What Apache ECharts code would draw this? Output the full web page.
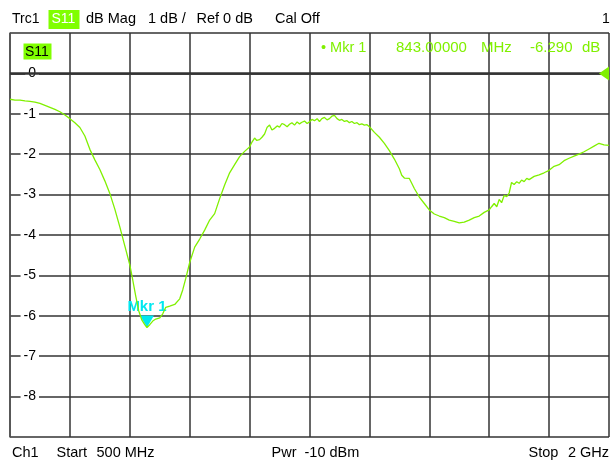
<!DOCTYPE html>
<html><head><meta charset="utf-8">
<script src="https://cdn.jsdelivr.net/npm/echarts@6/dist/echarts.min.js"></script>
<style>html,body{margin:0;padding:0;background:#fff}#c{width:610px;height:462px}</style>
</head><body><div id="c"></div>
<script>
const startMHz = 500;
const stopMHz = 2000;
const divMHz = 150;
const freqMHz = [500,512.5,525,537.5,550,562.5,575,587.5,600,612.5,625,637.5,650,662.5,675,687.5,700,712.5,725,737.5,750,762.5,775,787.5,800,807.5,815,822.5,830,837.5,843,850,857.5,865,875,882.5,890,900,912.5,925,932.5,940,950,962.5,975,987.5,1000,1012.5,1025,1037.5,1050,1062.5,1075,1087.5,1100,1106,1112.5,1118,1125,1131,1137.5,1144,1150,1156,1162.5,1169,1175,1181,1187.5,1194,1200,1206,1212.5,1219,1225,1231,1237.5,1244,1250,1256,1262.5,1269,1275,1281,1287.5,1294,1300,1306,1312.5,1319,1325,1331,1337.5,1344,1350,1356,1362.5,1369,1375,1381,1387.5,1394,1400,1412.5,1425,1437.5,1450,1462.5,1475,1481,1487.5,1500,1506,1512.5,1525,1537.5,1550,1562.5,1575,1587.5,1600,1612.5,1625,1637.5,1650,1662.5,1675,1687.5,1700,1706,1712.5,1719,1725,1731,1737.5,1744,1750,1756,1762.5,1769,1775,1781,1787.5,1794,1800,1812.5,1825,1837.5,1850,1862.5,1875,1887.5,1900,1912.5,1925,1937.5,1950,1962.5,1975,1987.5,2000];
const s11dB = [-0.64,-0.66,-0.66,-0.68,-0.69,-0.71,-0.74,-0.79,-0.84,-0.89,-0.95,-1.03,-1.12,-1.22,-1.34,-1.55,-1.88,-2.14,-2.38,-2.66,-2.97,-3.36,-3.80,-4.27,-4.74,-5.12,-5.52,-5.88,-6.10,-6.22,-6.29,-6.22,-6.13,-6.08,-6.05,-5.95,-5.79,-5.76,-5.72,-5.58,-5.36,-5.08,-4.68,-4.30,-4.10,-3.88,-3.63,-3.47,-3.10,-2.76,-2.46,-2.26,-2.06,-1.93,-1.82,-1.70,-1.60,-1.66,-1.64,-1.58,-1.50,-1.33,-1.28,-1.40,-1.36,-1.30,-1.33,-1.24,-1.27,-1.32,-1.26,-1.22,-1.28,-1.20,-1.25,-1.21,-1.18,-1.24,-1.20,-1.14,-1.17,-1.12,-1.19,-1.12,-1.09,-1.15,-1.12,-1.06,-1.04,-1.12,-1.16,-1.14,-1.19,-1.17,-1.22,-1.19,-1.24,-1.22,-1.27,-1.25,-1.28,-1.27,-1.32,-1.46,-1.58,-1.73,-1.91,-2.12,-2.36,-2.52,-2.59,-2.60,-2.72,-2.85,-3.06,-3.22,-3.38,-3.48,-3.53,-3.57,-3.63,-3.66,-3.70,-3.68,-3.63,-3.57,-3.53,-3.44,-3.38,-3.30,-3.22,-3.30,-3.12,-3.20,-3.02,-3.05,-2.96,-2.70,-2.75,-2.68,-2.72,-2.64,-2.68,-2.60,-2.63,-2.55,-2.51,-2.46,-2.40,-2.30,-2.26,-2.16,-2.10,-2.05,-2.00,-1.94,-1.87,-1.80,-1.73,-1.77,-1.78];
const yLabelValues = [0,-1,-2,-3,-4,-5,-6,-7,-8];
const refLevel = 0;
const markerFreq = 843;
const markerValue = -6.29;

const FONT = 'Liberation Sans, Arial, sans-serif';
const GREEN = '#80f000';
const CYAN = '#00e8f0';

const chart = echarts.init(document.getElementById('c'), null, {renderer: 'canvas'});
const traceData = freqMHz.map((f, i) => [f - startMHz, s11dB[i]]);

chart.setOption({
  animation: false,
  backgroundColor: '#fff',
  grid: {left: 10, right: 1, top: 33, bottom: 25, show: false},
  xAxis: {
    type: 'value', min: 0, max: stopMHz - startMHz, interval: divMHz,
    axisLabel: {show: false}, axisTick: {show: false},
    axisLine: {show: true, lineStyle: {color: '#555', width: 1.5}},
    splitLine: {show: true, showMinLine: true, showMaxLine: true, lineStyle: {color: '#333', width: 1.5}},
    z: 3
  },
  yAxis: {
    type: 'value', min: -9, max: 1, interval: 1,
    axisTick: {show: false},
    axisLine: {show: true, lineStyle: {color: '#555', width: 1.5}},
    splitLine: {show: true, showMinLine: true, showMaxLine: true, lineStyle: {color: '#333', width: 1.5}},
    axisLabel: {
      inside: true, margin: 29, align: 'right',
      formatter: v => yLabelValues.indexOf(v) >= 0 ? String(v) : '',
      color: '#000', fontFamily: FONT, fontSize: 14,
      backgroundColor: '#fff', padding: [0, 3, 0, 3]
    },
    z: 3
  },
  series: [
    {
      type: 'line', data: [], z: 2, silent: true,
      markLine: {
        silent: true, symbol: 'none', label: {show: false},
        lineStyle: {color: '#333', width: 2.5, type: 'solid'},
        data: [{yAxis: refLevel}]
      }
    },
    {
      type: 'line', data: traceData, showSymbol: false, z: 5,
      lineStyle: {color: GREEN, width: 1.3}, clip: true,
      markPoint: {
        silent: true,
        data: [
          {
            coord: [markerFreq - startMHz, markerValue],
            symbol: 'path://M0,0 L14,0 L7,12 Z', symbolSize: [14, 12],
            symbolOffset: [0, '-50%'],
            itemStyle: {color: CYAN},
            label: {show: true, position: 'top', distance: 1, formatter: 'Mkr 1', color: CYAN,
              fontFamily: FONT, fontSize: 15, fontWeight: 'bold'}
          },
          {
            coord: [stopMHz - startMHz, refLevel],
            symbol: 'path://M10,0 L10,14 L0,7 Z', symbolSize: [10, 14],
            symbolOffset: ['-50%', 0],
            itemStyle: {color: GREEN}, label: {show: false}
          }
        ]
      }
    }
  ],
  graphic: [
    {type: 'text', x: 12, y: 19, style: {text: 'Trc1', fill: '#000', font: '14px ' + FONT, verticalAlign: 'middle'}},
    {type: 'rect', shape: {x: 48.5, y: 10, width: 31, height: 19}, style: {fill: '#80ff00'}},
    {type: 'text', x: 51.5, y: 19.5, style: {text: 'S11', fill: '#fff', font: '14px ' + FONT, verticalAlign: 'middle'}},
    {type: 'text', x: 86, y: 19, style: {text: 'dB Mag', fill: '#000', font: '14.5px ' + FONT, verticalAlign: 'middle'}},
    {type: 'text', x: 148, y: 19, style: {text: '1 dB /', fill: '#000', font: '14.5px ' + FONT, verticalAlign: 'middle'}},
    {type: 'text', x: 196.5, y: 19, style: {text: 'Ref 0 dB', fill: '#000', font: '14.5px ' + FONT, verticalAlign: 'middle'}},
    {type: 'text', x: 275, y: 19, style: {text: 'Cal Off', fill: '#000', font: '14.5px ' + FONT, verticalAlign: 'middle'}},
    {type: 'text', x: 602, y: 19, style: {text: '1', fill: '#000', font: '14px ' + FONT, verticalAlign: 'middle'}},
    {type: 'rect', shape: {x: 23.5, y: 43.5, width: 28, height: 16}, style: {fill: '#80ff00'}, z: 10},
    {type: 'text', x: 25, y: 52, z: 11, style: {text: 'S11', fill: '#000', font: '14px ' + FONT, verticalAlign: 'middle'}},
    {type: 'text', x: 321, y: 48, z: 11, style: {text: '\u2022 Mkr 1', fill: GREEN, font: '14.5px ' + FONT, verticalAlign: 'middle'}},
    {type: 'text', x: 396, y: 48, z: 11, style: {text: '843.00000', fill: GREEN, font: '15px ' + FONT, verticalAlign: 'middle'}},
    {type: 'text', x: 481, y: 48, z: 11, style: {text: 'MHz', fill: GREEN, font: '15px ' + FONT, verticalAlign: 'middle'}},
    {type: 'text', x: 530, y: 48, z: 11, style: {text: '-6.290', fill: GREEN, font: '15px ' + FONT, verticalAlign: 'middle'}},
    {type: 'text', x: 582, y: 48, z: 11, style: {text: 'dB', fill: GREEN, font: '15px ' + FONT, verticalAlign: 'middle'}},
    {type: 'text', x: 12, y: 453, style: {text: 'Ch1', fill: '#000', font: '14.5px ' + FONT, verticalAlign: 'middle'}},
    {type: 'text', x: 56.5, y: 453, style: {text: 'Start', fill: '#000', font: '14.5px ' + FONT, verticalAlign: 'middle'}},
    {type: 'text', x: 96.5, y: 453, style: {text: '500 MHz', fill: '#000', font: '14.5px ' + FONT, verticalAlign: 'middle'}},
    {type: 'text', x: 271.5, y: 453, style: {text: 'Pwr  -10 dBm', fill: '#000', font: '14.5px ' + FONT, verticalAlign: 'middle'}},
    {type: 'text', x: 528.5, y: 453, style: {text: 'Stop', fill: '#000', font: '14.5px ' + FONT, verticalAlign: 'middle'}},
    {type: 'text', x: 609, y: 453, style: {text: '2 GHz', fill: '#000', font: '14.5px ' + FONT, verticalAlign: 'middle', align: 'right'}}
  ]
});
</script>
</body></html>
